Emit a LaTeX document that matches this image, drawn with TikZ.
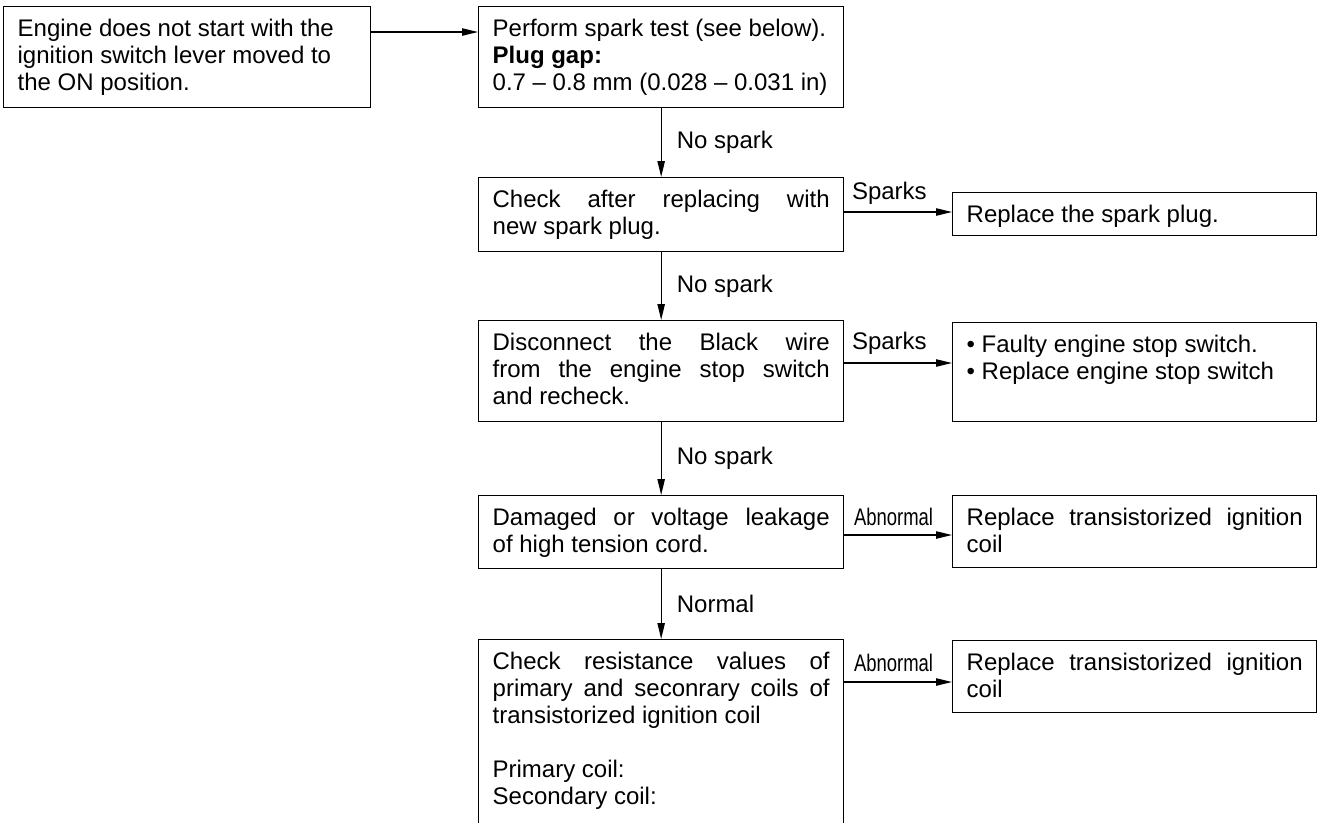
\documentclass[tikz,border=0pt]{standalone}
\usepackage{fontspec}
\setmainfont{Liberation Sans}
\usepackage{graphicx}
\usetikzlibrary{arrows.meta,calc}

\tikzset{every picture/.style={line width=1pt}}
\newcommand{\cardtext}[3]{\begin{minipage}[c][#2][t]{#1}\strut #3\end{minipage}}
\newcommand{\abnlabel}{\scalebox{0.77}[1]{Abnormal}}

\begin{document}
\begin{tikzpicture}[x=0.75pt,y=0.75pt,yscale=-1,xscale=1,
  card/.style={draw, anchor=north west, inner xsep=10.5pt, inner ysep=8.25pt, font=\fontsize{18}{20.25}\selectfont},
  lbl/.style={inner sep=0.75pt, font=\fontsize{18}{20.25}\selectfont},
  flow/.style={-{Triangle[length=12pt,width=5.5pt]}}]
\clip (0,0) rectangle (1321,822);

% Boxes, left column
\node[card] (start) at (3,6) {\cardtext{254.25pt}{59.25pt}{Engine does not start with the\\ ignition switch lever moved to\\ the ON position.}};

% Boxes, middle column
\node[card] (sparktest) at (478,6) {\cardtext{252.75pt}{59.25pt}{Perform spark test (see below).\\ \textbf{Plug gap:}\\ \mbox{0.7 – 0.8 mm (0.028 – 0.031 in)}}};
\node[card] (newplug) at (478,177) {\cardtext{252.75pt}{39pt}{Check after replacing with\linebreak new spark plug.}};
\node[card] (blackwire) at (478,320) {\cardtext{252.75pt}{59.25pt}{Disconnect the Black wire\linebreak from the engine stop switch\linebreak and recheck.}};
\node[card] (cord) at (478,495) {\cardtext{252.75pt}{38.25pt}{Damaged or voltage leakage\linebreak of high tension cord.}};
\node[card] (resist) at (478,639) {\cardtext{252.75pt}{180pt}{Check resistance values of\linebreak primary and seconrary coils of\linebreak transistorized ignition coil\\[20.25pt] Primary coil:\\ Secondary coil:}};

% Boxes, right column
\node[card] (plug) at (952,192) {\cardtext{252pt}{15.75pt}{Replace the spark plug.}};
\node[card] (stopsw) at (952,322) {\cardtext{252pt}{57.75pt}{\textbullet\ Faulty engine stop switch.\\ \textbullet\ Replace engine stop switch}};
\node[card] (coilA) at (952,495) {\cardtext{252pt}{37.5pt}{Replace transistorized ignition\linebreak coil}};
\node[card] (coilB) at (952,640) {\cardtext{252pt}{37.5pt}{Replace transistorized ignition\linebreak coil}};

%Straight Lines
\draw[flow] ($(start.north east)+(0,26)$) -- ($(sparktest.north west)+(0,26)$);
\draw[flow] (sparktest) -- node[lbl, right=10.5pt] {No spark} (newplug);
\draw[flow] (newplug) -- node[lbl, right=10.5pt] {No spark} (blackwire);
\draw[flow] (blackwire) -- node[lbl, right=10.5pt] {No spark} (cord);
\draw[flow] (cord) -- node[lbl, right=10.5pt] {Normal} (resist);
\draw[flow] ($(newplug.north east)+(0,35)$) -- ($(plug.north west)+(0,20)$);
\draw[flow] ($(blackwire.north east)+(0,43)$) -- ($(stopsw.north west)+(0,41)$);
\draw[flow] ($(cord.north east)+(0,40)$) -- ($(coilA.north west)+(0,40)$);
\draw[flow] ($(resist.north east)+(0,43)$) -- ($(coilB.north west)+(0,42)$);

% Text Node
\node[lbl, anchor=west] (sparks1) at ($(newplug.north east)+(6,16)$) {Sparks};
% Text Node
\node[lbl, anchor=west] (sparks2) at ($(blackwire.north east)+(6,23)$) {Sparks};
% Text Node
\node[lbl, anchor=west] (abn1) at ($(cord.north east)+(8,22)$) {\abnlabel};
% Text Node
\node[lbl, anchor=west] (abn2) at ($(resist.north east)+(8,24)$) {\abnlabel};

\end{tikzpicture}
\end{document}
